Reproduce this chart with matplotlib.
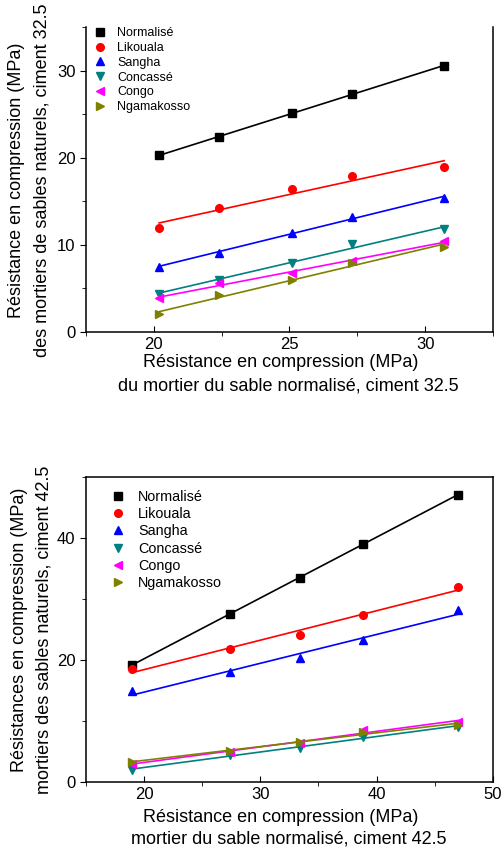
import numpy as np
import matplotlib
matplotlib.use("Agg")
import matplotlib.pyplot as plt
from matplotlib.ticker import MultipleLocator

plt.rcParams['font.family'] = ['Liberation Sans', 'DejaVu Sans']

names = ['Normalisé', 'Likouala', 'Sangha', 'Concassé', 'Congo', 'Ngamakosso']
colors = ['black', 'red', 'blue', '#008080', 'magenta', '#808000']
markers = ['s', 'o', '^', 'v', '<', '>']

# ciment 32.5
x_325 = [20.2, 22.4, 25.1, 27.3, 30.7]
y_325 = {
    'Normalisé': [20.3, 22.4, 25.1, 27.3, 30.6],
    'Likouala': [11.9, 14.2, 16.4, 17.9, 19.0],
    'Sangha': [7.5, 9.1, 11.4, 13.2, 15.4],
    'Concassé': [4.4, 6.0, 7.9, 10.1, 11.8],
    'Congo': [3.9, 5.6, 6.8, 8.1, 10.4],
    'Ngamakosso': [2.0, 4.2, 6.0, 7.9, 9.8],
}

# ciment 42.5
x_425 = [19.0, 27.4, 33.4, 38.8, 47.0]
y_425 = {
    'Normalisé': [19.2, 27.6, 33.5, 39.0, 47.1],
    'Likouala': [18.5, 21.8, 24.1, 27.4, 32.0],
    'Sangha': [14.9, 18.0, 20.3, 23.3, 28.2],
    'Concassé': [2.0, 4.5, 5.6, 7.4, 9.1],
    'Congo': [3.0, 5.0, 6.4, 8.5, 9.9],
    'Ngamakosso': [3.3, 5.1, 6.6, 8.2, 9.4],
}


def draw(ax, x, ys):
    x = np.array(x)
    for name, c, m in zip(names, colors, markers):
        y = np.array(ys[name])
        ax.plot(x, y, ls='none', marker=m, color=c, ms=5.5, label=name)
        k, b = np.polyfit(x, y, 1)  # droite de regression
        ax.plot(x[[0, -1]], k * x[[0, -1]] + b, color=c, lw=1.2)
    ax.tick_params(axis='x', direction='in', length=4, labelsize=12, pad=3.5)
    ax.tick_params(axis='y', direction='out', length=4, labelsize=12)
    ax.tick_params(which='minor', length=3)
    for s in ax.spines.values():
        s.set_linewidth(1.1)


fig = plt.figure(figsize=(5.02, 8.51), dpi=100)

ax1 = fig.add_axes([0.171, 0.610, 0.811, 0.358])
draw(ax1, x_325, y_325)
ax1.set_xlim(17.5, 32.5)
ax1.set_ylim(0, 35)
ax1.xaxis.set_major_locator(MultipleLocator(5))
ax1.xaxis.set_minor_locator(MultipleLocator(2.5))
ax1.yaxis.set_major_locator(MultipleLocator(10))
ax1.yaxis.set_minor_locator(MultipleLocator(5))
ax1.spines['top'].set_visible(False)
h, l = ax1.get_legend_handles_labels()
ax1.legend(h, l, loc='upper left', bbox_to_anchor=(0.0, 1.016), frameon=False,
           fontsize=9, handletextpad=0.6, labelspacing=0.22, handlelength=1.5,
           borderaxespad=0)
fig.text(0.56, 1 - 363 / 851, 'Résistance en compression (MPa)', ha='center', va='center', fontsize=13)
fig.text(0.575, 1 - 386 / 851, 'du mortier du sable normalisé, ciment 32.5', ha='center', va='center', fontsize=13)
fig.text(17 / 502, 1 - 180 / 851, 'Résistance en compression (MPa)', rotation=90, ha='center', va='center', fontsize=13)
fig.text(42 / 502, 1 - 180 / 851, 'des mortiers de sables naturels, ciment 32.5', rotation=90, ha='center', va='center', fontsize=13)

ax2 = fig.add_axes([0.171, 0.081, 0.811, 0.3585])
draw(ax2, x_425, y_425)
ax2.set_xlim(15, 50)
ax2.set_ylim(0, 50)
ax2.xaxis.set_major_locator(MultipleLocator(10))
ax2.xaxis.set_minor_locator(MultipleLocator(5))
ax2.yaxis.set_major_locator(MultipleLocator(20))
ax2.yaxis.set_minor_locator(MultipleLocator(10))
h, l = ax2.get_legend_handles_labels()
ax2.legend(h, l, loc='upper left', bbox_to_anchor=(0.038, 0.977), frameon=False,
           fontsize=10.4, handletextpad=0.63, labelspacing=0.23, handlelength=1.5,
           borderaxespad=0)
fig.text(0.56, 1 - 818 / 851, 'Résistance en compression (MPa)', ha='center', va='center', fontsize=13)
fig.text(0.575, 1 - 839 / 851, 'mortier du sable normalisé, ciment 42.5', ha='center', va='center', fontsize=13)
fig.text(20 / 502, 1 - 630 / 851, 'Résistances en compression (MPa)', rotation=90, ha='center', va='center', fontsize=13)
fig.text(44 / 502, 1 - 630 / 851, 'mortiers des sables naturels, ciment 42.5', rotation=90, ha='center', va='center', fontsize=13)

fig.savefig('out.png', dpi=100)
